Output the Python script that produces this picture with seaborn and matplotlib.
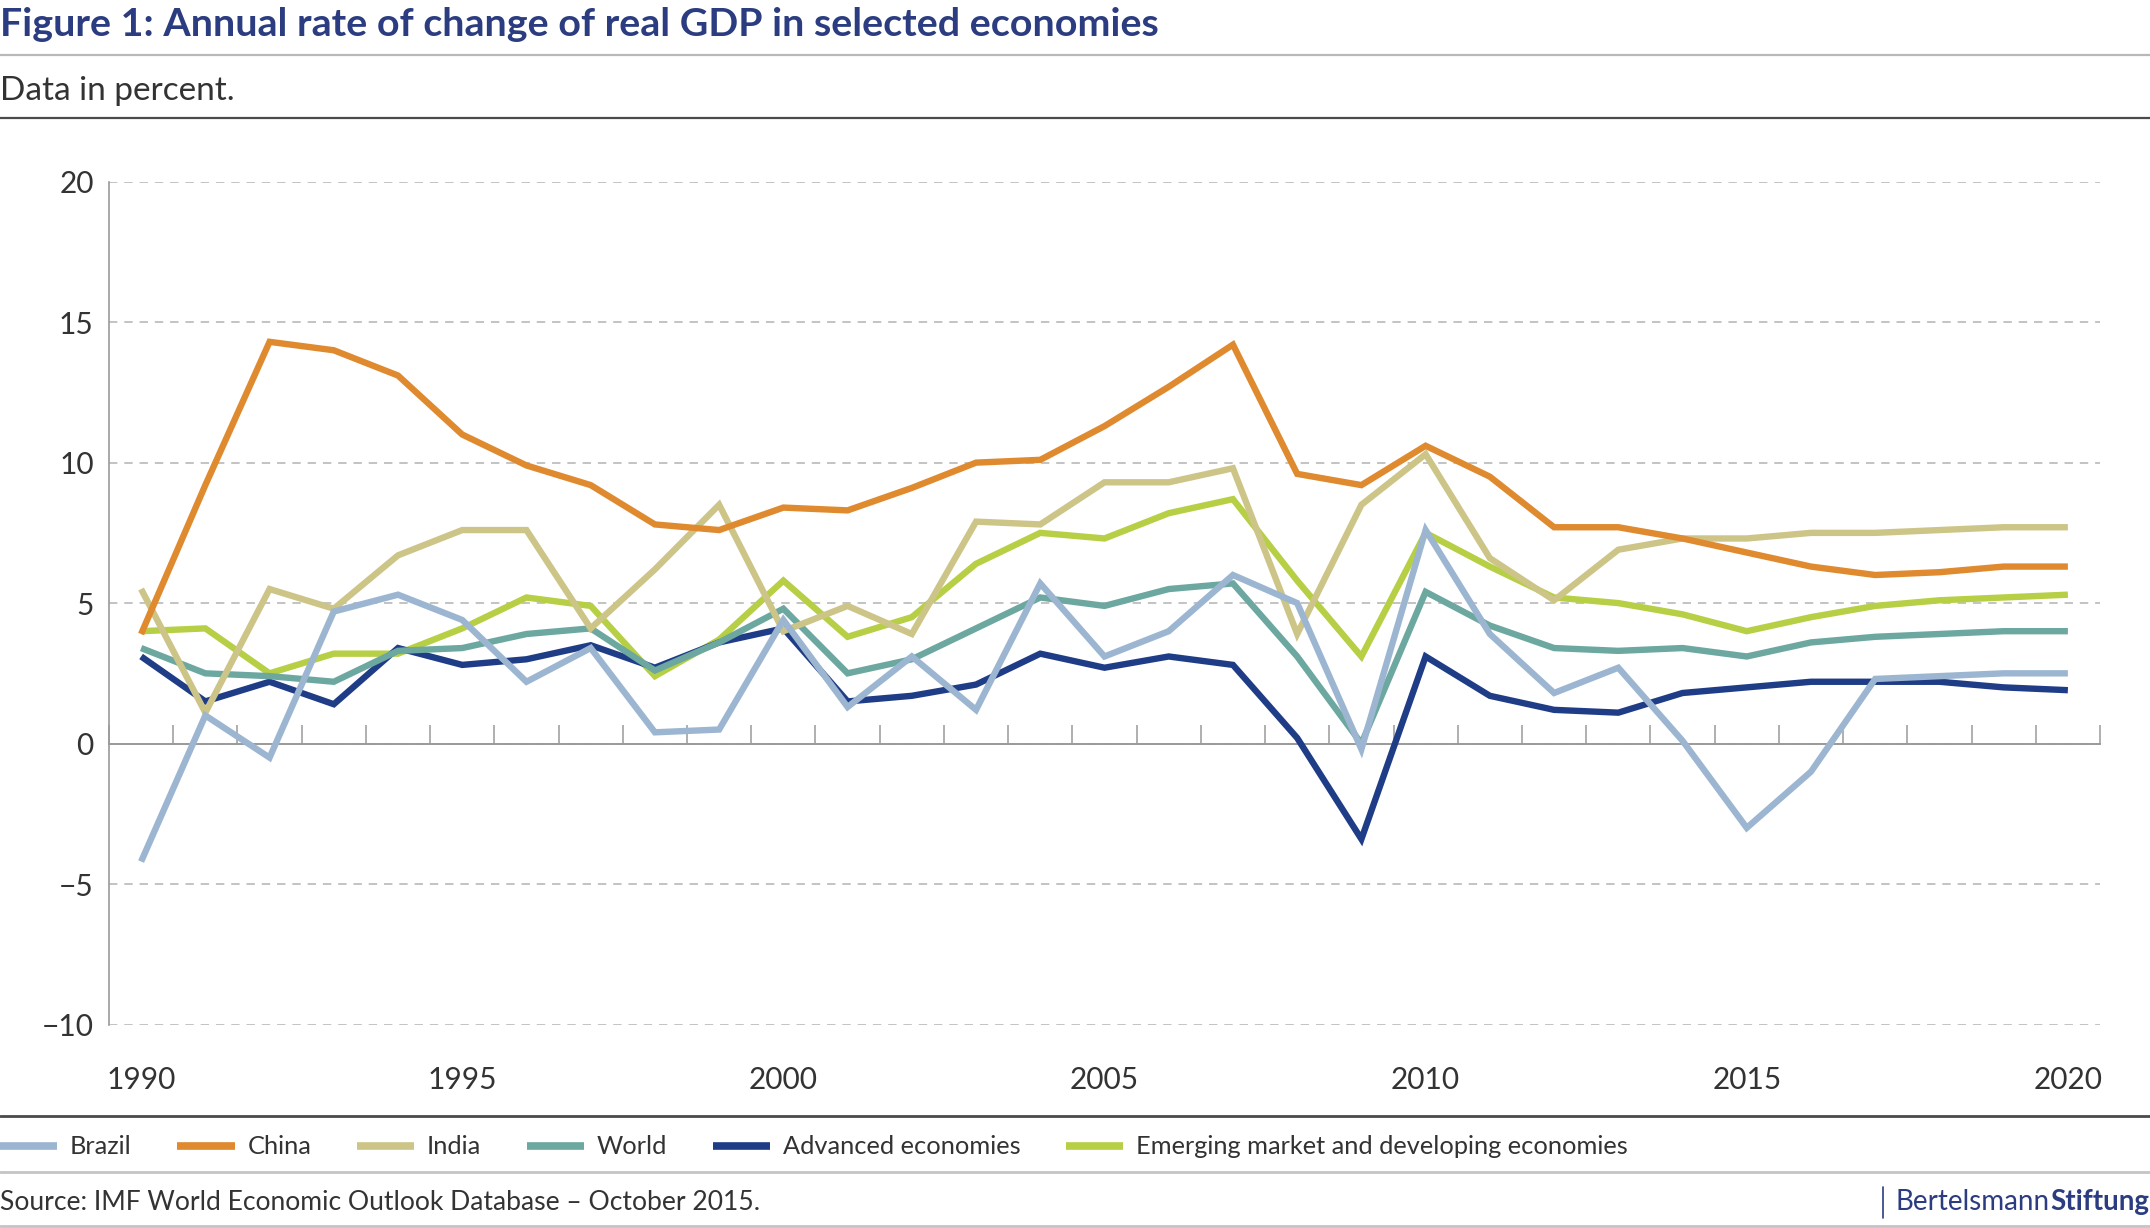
import seaborn as sns
import matplotlib.pyplot as plt
import matplotlib.lines as mlines
import numpy as np
import pandas as pd

# Real GDP growth, percent
years = list(range(1990, 2021))
brazil = [-4.2, 1.0, -0.5, 4.7, 5.3, 4.4, 2.2, 3.4, 0.4, 0.5, 4.4, 1.3, 3.1, 1.2, 5.7, 3.1,
          4.0, 6.0, 5.0, -0.2, 7.6, 3.9, 1.8, 2.7, 0.1, -3.0, -1.0, 2.3, 2.4, 2.5, 2.5]
china = [3.9, 9.2, 14.3, 14.0, 13.1, 11.0, 9.9, 9.2, 7.8, 7.6, 8.4, 8.3, 9.1, 10.0, 10.1, 11.3,
         12.7, 14.2, 9.6, 9.2, 10.6, 9.5, 7.7, 7.7, 7.3, 6.8, 6.3, 6.0, 6.1, 6.3, 6.3]
india = [5.5, 1.1, 5.5, 4.8, 6.7, 7.6, 7.6, 4.1, 6.2, 8.5, 4.0, 4.9, 3.9, 7.9, 7.8, 9.3,
         9.3, 9.8, 3.9, 8.5, 10.3, 6.6, 5.1, 6.9, 7.3, 7.3, 7.5, 7.5, 7.6, 7.7, 7.7]
world = [3.4, 2.5, 2.4, 2.2, 3.3, 3.4, 3.9, 4.1, 2.6, 3.6, 4.8, 2.5, 3.0, 4.1, 5.2, 4.9,
         5.5, 5.7, 3.1, 0.0, 5.4, 4.2, 3.4, 3.3, 3.4, 3.1, 3.6, 3.8, 3.9, 4.0, 4.0]
advanced = [3.1, 1.5, 2.2, 1.4, 3.4, 2.8, 3.0, 3.5, 2.7, 3.6, 4.1, 1.5, 1.7, 2.1, 3.2, 2.7,
            3.1, 2.8, 0.2, -3.4, 3.1, 1.7, 1.2, 1.1, 1.8, 2.0, 2.2, 2.2, 2.2, 2.0, 1.9]
emerging = [4.0, 4.1, 2.5, 3.2, 3.2, 4.1, 5.2, 4.9, 2.4, 3.7, 5.8, 3.8, 4.5, 6.4, 7.5, 7.3,
            8.2, 8.7, 5.8, 3.1, 7.5, 6.3, 5.2, 5.0, 4.6, 4.0, 4.5, 4.9, 5.1, 5.2, 5.3]

series_names = ["Brazil", "China", "India", "World", "Advanced economies",
                "Emerging market and developing economies"]
series_values = [brazil, china, india, world, advanced, emerging]
colors = ["#9cb6d1", "#df8a2f", "#cdc587", "#6ca8a0", "#1f3d87", "#b6cf45"]
palette = dict(zip(series_names, colors))

df = pd.DataFrame({
    "Year": years * len(series_names),
    "Growth": [v for vals in series_values for v in vals],
    "Series": [n for n in series_names for _ in years],
})

sns.set_style("white")
plt.rcParams["font.family"] = ["Lato", "DejaVu Sans"]

W, H = 2150, 1228
fig = plt.figure(figsize=(W / 100, H / 100), dpi=100)
ax = fig.add_axes([109 / W, 1 - 1024.5 / H, (2100 - 109) / W, (1024.5 - 181.7) / H])

sns.lineplot(data=df, x="Year", y="Growth", hue="Series", hue_order=series_names,
             palette=palette, linewidth=4.6, legend=True, ax=ax)

handles, labels = ax.get_legend_handles_labels()
ax.get_legend().remove()

# Brazil drawn on top, emerging at the bottom
for i, line in enumerate(ax.lines):
    line.set_zorder(10 - i)
    line.set_solid_joinstyle("miter")
    line.set_solid_capstyle("butt")

ax.set_xlim(1989.5, 2020.5)
ax.set_ylim(-10, 20)
ax.set_yticks(range(-10, 21, 5))
ax.set_xlabel("")
ax.set_ylabel("")

ax.yaxis.grid(True, linestyle=(0, (5.5, 4.5)), color="#b3b3b3", linewidth=1.1)
ax.xaxis.grid(False)
ax.set_axisbelow(True)

for s in ["top", "right"]:
    ax.spines[s].set_visible(False)
ax.spines["left"].set_color("#9a9a9a")
ax.spines["left"].set_linewidth(1.2)
ax.spines["bottom"].set_position(("data", 0))
ax.spines["bottom"].set_color("#9a9a9a")
ax.spines["bottom"].set_linewidth(1.4)

# ticks between the years, sitting on the zero line
ax.set_xticks([])
ax.set_xticks(np.arange(1989.5, 2021, 1), minor=True)
ax.tick_params(axis="x", which="minor", bottom=True, direction="in", length=14, width=1.1,
               color="#9a9a9a", labelbottom=False)
ax.tick_params(axis="y", length=0, pad=11, labelsize=21.5, labelcolor="#333333")

sec = ax.secondary_xaxis("bottom")
sec.set_xticks(years[::5])
sec.tick_params(length=0, pad=30, labelsize=21.5, labelcolor="#333333")
sec.spines["bottom"].set_visible(False)

# header
fig.text(0.0, 1 - 36 / H, "Figure 1: Annual rate of change of real GDP in selected economies",
         fontsize=28.4, fontweight="bold", color="#2b3d80", va="baseline", ha="left")
fig.add_artist(mlines.Line2D([0, 1], [1 - 55 / H] * 2, color="#b8b8b8", lw=1.6))
fig.text(0.0, 1 - 100.5 / H, "Data in percent.", fontsize=24, color="#333333",
         va="baseline", ha="left")
fig.add_artist(mlines.Line2D([0, 1], [1 - 118 / H] * 2, color="#4a4a4a", lw=1.6))

# footer
fig.add_artist(mlines.Line2D([0, 1], [1 - 1116 / H] * 2, color="#4a4a4a", lw=2.0))
leg = fig.legend(handles, labels, loc="center left", bbox_to_anchor=(0.0, 1 - 1147 / H),
                 ncol=6, frameon=False, fontsize=18.3, handlelength=2.25,
                 handletextpad=0.5, columnspacing=1.8, borderaxespad=0, borderpad=0)
for h in leg.get_lines():
    h.set_linewidth(5.5)
    h.set_solid_capstyle("butt")
for t in leg.get_texts():
    t.set_color("#333333")
fig.add_artist(mlines.Line2D([0, 1], [1 - 1172 / H] * 2, color="#c4c4c4", lw=2.0))
fig.text(0.0, 1 - 1202 / H, "Source: IMF World Economic Outlook Database \u2013 October 2015.",
         fontsize=19.1, color="#333333", va="center", ha="left")
fig.add_artist(mlines.Line2D([0, 1], [1 - 1226 / H] * 2, color="#c4c4c4", lw=2.0))

fig.add_artist(mlines.Line2D([1883 / W] * 2, [1 - 1187 / H, 1 - 1218 / H],
                             color="#2b3d80", lw=1.2))
t1 = fig.text(1896 / W, 1 - 1202 / H, "Bertelsmann", fontsize=20, color="#2b3d80",
              va="center", ha="left")
ax.annotate("Stiftung", xy=(1, 0), xycoords=t1, ha="left", va="bottom",
            fontsize=20, fontweight="bold", color="#2b3d80", annotation_clip=False)

fig.savefig("out.png", dpi=100)
